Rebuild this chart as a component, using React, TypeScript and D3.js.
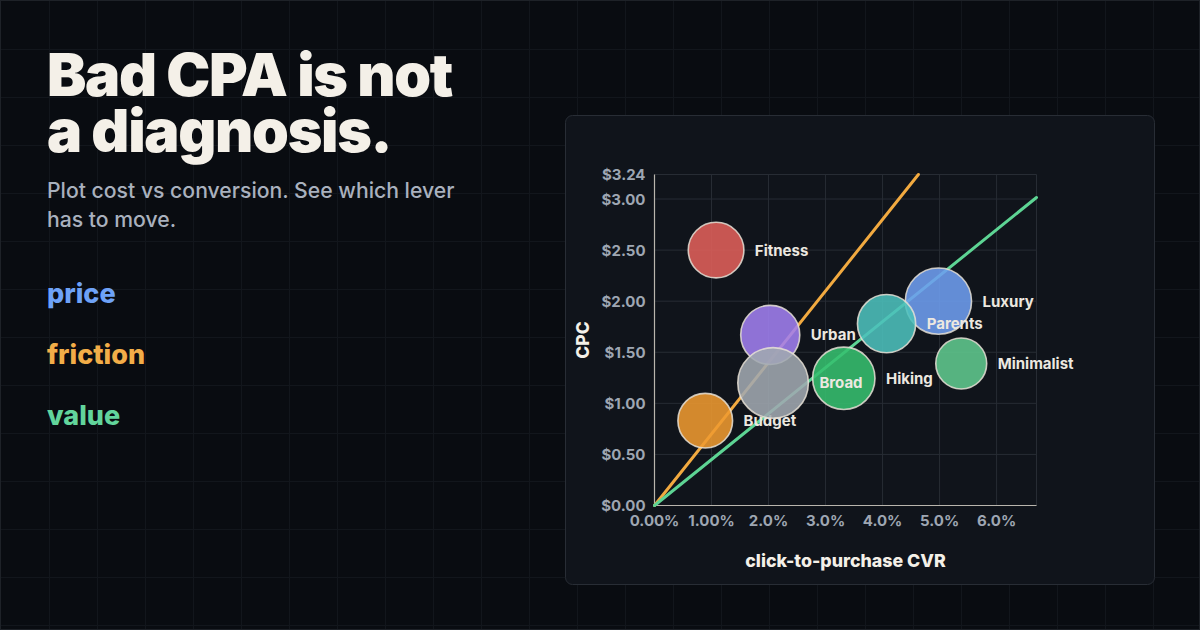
import React from "react";
import * as d3 from "d3";

const segments = ["Fitness", "Budget", "Hiking", "Luxury", "Parents", "Urban", "Broad", "Minimalist"];
const cvr = [1.08, 0.89, 3.32, 4.98, 4.07, 2.03, 2.08, 5.38];
const cpc = [2.5, 0.83, 1.245, 2.0, 1.78, 1.67, 1.2, 1.39];
const spend = [31, 30, 39, 44, 34, 35, 50, 26];
const bubbleColors = ["#e0605a", "#ee9a30", "#36bf6e", "#6e9ef0", "#4cc0bc", "#a07ff0", "#a1a8b0", "#60c98e"];

const xTicks = [0, 1, 2, 3, 4, 5, 6];
const xTickLabels = ["0.00%", "1.00%", "2.0%", "3.0%", "4.0%", "5.0%", "6.0%"];
const yTicks = [0, 0.5, 1, 1.5, 2, 2.5, 3, 3.24];
const yTickLabels = ["$0.00", "$0.50", "$1.00", "$1.50", "$2.00", "$2.50", "$3.00", "$3.24"];
const xMax = 6.7;
const yMax = 3.24;

const cpaLines = [
  { name: "friction", cpa: 70, color: "#f2aa40" },
  { name: "value", cpa: 45, color: "#5dd494" },
];

const titleLines = ["Bad CPA is not", "a diagnosis."];
const subtitleLines = ["Plot cost vs conversion. See which lever", "has to move."];
const levers = ["price", "friction", "value"];
const leverColors = ["#6ea2f7", "#f2ad48", "#62d59c"];

const W = 1200;
const H = 630;
const FONT = "Inter, 'Noto Sans', sans-serif";

export default function App() {
  const x = d3.scaleLinear().domain([0, xMax]).range([654.5, 1036.5]);
  const y = d3.scaleLinear().domain([0, yMax]).range([505.5, 174.5]);
  const r = d3.scaleSqrt().domain([0, 50]).range([0, 35.3]);

  const gridX = d3.range(1, Math.floor(W / 48) + 1).map((i) => 1 + i * 48);
  const gridY = d3.range(1, Math.floor(H / 48) + 1).map((i) => 1 + i * 48);

  const lineGen = d3
    .line<[number, number]>()
    .x((d) => x(d[0]))
    .y((d) => y(d[1]));

  const bubbles = segments.map((s, i) => ({
    name: s,
    cx: x(cvr[i]),
    cy: y(cpc[i]),
    r: r(spend[i]),
    color: bubbleColors[i],
  }));

  return (
    <div style={{ position: "fixed", left: 0, top: 0, width: W, height: H }}>
      <svg width={W} height={H} viewBox={`0 0 ${W} ${H}`} style={{ display: "block", fontFamily: FONT }}>
        <rect x={0} y={0} width={W} height={H} fill="#090c11" />
        {gridX.map((gx) => (
          <line key={"gx" + gx} x1={gx + 0.5} x2={gx + 0.5} y1={0} y2={H} stroke="#12161c" strokeWidth={1} />
        ))}
        {gridY.map((gy) => (
          <line key={"gy" + gy} x1={0} x2={W} y1={gy + 0.5} y2={gy + 0.5} stroke="#12161c" strokeWidth={1} />
        ))}
        <rect x={0.5} y={0.5} width={W - 1} height={H - 1} fill="none" stroke="#1e2228" strokeWidth={1} />

        {/* Left text */}
        {titleLines.map((t, i) => (
          <text
            key={t}
            x={47}
            y={96 + i * 56}
            fill="#f4f0e8"
            fontSize={59}
            fontWeight={900}
            letterSpacing={-1.3}
          >
            {t}
          </text>
        ))}
        {subtitleLines.map((t, i) => (
          <text key={t} x={47} y={198 + i * 28.5} fill="#a9b1be" fontSize={21.2} fontWeight={500}>
            {t}
          </text>
        ))}
        {levers.map((t, i) => (
          <text key={t} x={47} y={303 + i * 61} fill={leverColors[i]} fontSize={27} fontWeight={800}>
            {t}
          </text>
        ))}

        {/* Panel */}
        <rect x={565.5} y={115.5} width={589} height={469} rx={7} fill="#10141b" stroke="#282d35" strokeWidth={1} />

        {/* Gridlines */}
        {xTicks.map((t) => (
          <line key={"vx" + t} x1={x(t)} x2={x(t)} y1={y(yMax)} y2={y(0)} stroke="#272c34" strokeWidth={1} />
        ))}
        <line x1={x(xMax)} x2={x(xMax)} y1={y(yMax)} y2={y(0)} stroke="#272c34" strokeWidth={1} />
        {yTicks.map((t) => (
          <line key={"hy" + t} x1={x(0)} x2={x(xMax)} y1={y(t)} y2={y(t)} stroke="#272c34" strokeWidth={1} />
        ))}

        {/* Axes */}
        <line x1={x(0)} x2={x(xMax)} y1={y(0)} y2={y(0)} stroke="#b9b5ad" strokeWidth={1.2} />
        <line x1={x(0)} x2={x(0)} y1={y(0)} y2={y(yMax)} stroke="#b9b5ad" strokeWidth={1.2} />

        {yTicks.map((t, i) => (
          <text
            key={"yt" + t}
            x={x(0) - 9}
            y={y(t)}
            textAnchor="end"
            dominantBaseline="central"
            fill="#9ea6b2"
            fontSize={15}
            fontWeight={700}
          >
            {yTickLabels[i]}
          </text>
        ))}
        {xTicks.map((t, i) => (
          <text key={"xt" + t} x={x(t)} y={526} textAnchor="middle" fill="#9ea6b2" fontSize={15} fontWeight={700}>
            {xTickLabels[i]}
          </text>
        ))}

        <text x={(x(0) + x(xMax)) / 2} y={567} textAnchor="middle" fill="#f4f0e8" fontSize={17.8} fontWeight={800}>
          click-to-purchase CVR
        </text>
        <text
          transform={`translate(589, ${(y(0) + y(yMax)) / 2}) rotate(-90)`}
          textAnchor="middle"
          fill="#f4f0e8"
          fontSize={17.5}
          fontWeight={800}
        >
          CPC
        </text>

        {/* CPA lines */}
        {cpaLines.map((l) => {
          const xEnd = Math.min(xMax, yMax / (l.cpa / 100));
          const pts: [number, number][] = [
            [0, 0],
            [xEnd, (l.cpa / 100) * xEnd],
          ];
          return (
            <path key={l.name} d={lineGen(pts) || ""} fill="none" stroke={l.color} strokeWidth={3} strokeLinecap="round" />
          );
        })}

        {/* Bubbles */}
        {bubbles.map((b) => (
          <g key={b.name}>
            <circle cx={b.cx} cy={b.cy} r={b.r} fill={b.color} fillOpacity={0.88} stroke="#e6e0d6" strokeOpacity={0.85} strokeWidth={1.6} />
            <text
              x={b.cx + b.r + 11}
              y={b.cy}
              dominantBaseline="central"
              fill="#ece8e0"
              fontSize={15}
              fontWeight={700}
            >
              {b.name}
            </text>
          </g>
        ))}
      </svg>
    </div>
  );
}
